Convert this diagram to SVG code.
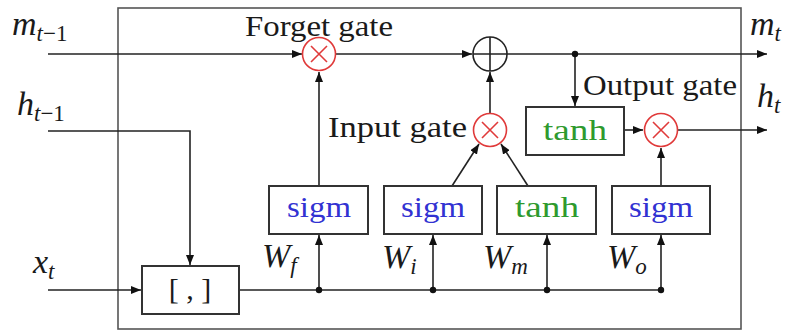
<svg xmlns="http://www.w3.org/2000/svg" width="787" height="331" viewBox="0 0 787 331">
<style>
.ln{fill:none;stroke:#222;stroke-width:1.6}
.bx{fill:#fff;stroke:#333;stroke-width:2}
.red{fill:#fff;stroke:#e03a3a;stroke-width:1.6}
.redx{stroke:#e03a3a;stroke-width:1.6;fill:none}
.blk{fill:#fff;stroke:#222;stroke-width:1.6}
text{font-family:'Liberation Serif',Tinos,'Times New Roman',serif;fill:#1a1a1a}
.m{font-family:'Liberation Serif',serif;font-style:italic;font-size:34px}
.s{font-size:23px}
.up{font-style:normal}
.g{font-family:'Liberation Serif',serif;font-size:30px}
.blue{fill:#3232d2}
.green{fill:#2e9a2e}
.dot{fill:#111}
</style>
<defs>
<marker id="ar" viewBox="0 0 10 8" refX="10" refY="4" markerWidth="10" markerHeight="8" markerUnits="userSpaceOnUse" orient="auto">
<path d="M0,0 L10,4 L0,8 Z" fill="#111"/>
</marker>
</defs>
<rect id="frame" x="118" y="8" width="623" height="321" fill="none" stroke="#555" stroke-width="1.6"/>
<g id="connectors">
<path class="ln" d="M48,54 L302,54" marker-end="url(#ar)"/>
<path class="ln" d="M336,54 L472,54" marker-end="url(#ar)"/>
<path class="ln" d="M507,54 L767,54" marker-end="url(#ar)"/>
<path class="ln" d="M575,54 L575,106" marker-end="url(#ar)"/>
<path class="ln" d="M48,131 L190,131 L190,265" marker-end="url(#ar)"/>
<path class="ln" d="M48,290 L141,290" marker-end="url(#ar)"/>
<path class="ln" d="M239,290 L661,290"/>
<path class="ln" d="M319,290 L319,235" marker-end="url(#ar)"/>
<path class="ln" d="M433,290 L433,235" marker-end="url(#ar)"/>
<path class="ln" d="M547,290 L547,235" marker-end="url(#ar)"/>
<path class="ln" d="M661,290 L661,235" marker-end="url(#ar)"/>
<path class="ln" d="M319,186 L319,72" marker-end="url(#ar)"/>
<path class="ln" d="M490,113 L490,72" marker-end="url(#ar)"/>
<path class="ln" d="M452,186 L479,144" marker-end="url(#ar)"/>
<path class="ln" d="M528,186 L501,144" marker-end="url(#ar)"/>
<path class="ln" d="M624,130 L643,130" marker-end="url(#ar)"/>
<path class="ln" d="M678,130 L767,130" marker-end="url(#ar)"/>
<path class="ln" d="M661,186 L661,148" marker-end="url(#ar)"/>
<circle class="dot" cx="575" cy="54" r="3.2"/>
<circle class="dot" cx="319" cy="290" r="3.2"/>
<circle class="dot" cx="433" cy="290" r="3.2"/>
<circle class="dot" cx="547" cy="290" r="3.2"/>
<circle class="dot" cx="661" cy="290" r="3.2"/>
</g>
<g id="forget-mul">
<circle class="red" cx="319" cy="54" r="16.5"/>
<path class="redx" d="M311,46 L327,62 M327,46 L311,62"/>
</g>
<g id="add">
<circle class="blk" cx="490" cy="54" r="17"/>
<path class="ln" d="M473,54 L507,54 M490,37 L490,71"/>
</g>
<g id="input-mul">
<circle class="red" cx="490" cy="130" r="16.5"/>
<path class="redx" d="M482,122 L498,138 M498,122 L482,138"/>
</g>
<g id="output-mul">
<circle class="red" cx="661" cy="130" r="16.5"/>
<path class="redx" d="M653,122 L669,138 M669,122 L653,138"/>
</g>
<g id="tanh-out">
<rect class="bx" x="526" y="107" width="98" height="48"/>
<text class="g green" x="575" y="140" text-anchor="middle" textLength="64" lengthAdjust="spacingAndGlyphs">tanh</text>
</g>
<g id="concat">
<rect class="bx" x="142" y="266" width="97" height="48"/>
<text class="g" x="190" y="299" text-anchor="middle" xml:space="preserve">[ , ]</text>
</g>
<g id="sigm-f">
<rect class="bx" x="269" y="186" width="99" height="48"/>
<text class="g blue" x="319" y="217" text-anchor="middle" textLength="64" lengthAdjust="spacingAndGlyphs">sigm</text>
</g>
<g id="sigm-i">
<rect class="bx" x="384" y="186" width="98" height="48"/>
<text class="g blue" x="433" y="217" text-anchor="middle" textLength="64" lengthAdjust="spacingAndGlyphs">sigm</text>
</g>
<g id="tanh-m">
<rect class="bx" x="497" y="186" width="99" height="48"/>
<text class="g green" x="547" y="217" text-anchor="middle" textLength="64" lengthAdjust="spacingAndGlyphs">tanh</text>
</g>
<g id="sigm-o">
<rect class="bx" x="612" y="186" width="98" height="48"/>
<text class="g blue" x="661" y="217" text-anchor="middle" textLength="64" lengthAdjust="spacingAndGlyphs">sigm</text>
</g>
<g id="labels">
<text class="g" x="245" y="36" textLength="148" lengthAdjust="spacingAndGlyphs">Forget gate</text>
<text class="g" x="328" y="137" textLength="139" lengthAdjust="spacingAndGlyphs">Input gate</text>
<text class="g" x="583" y="95" textLength="154" lengthAdjust="spacingAndGlyphs">Output gate</text>
<text class="m" x="12" y="35">m<tspan class="s" dy="6">t</tspan><tspan class="s up">−1</tspan></text>
<text class="m" x="17" y="115">h<tspan class="s" dy="6">t</tspan><tspan class="s up">−1</tspan></text>
<text class="m" x="33" y="273">x<tspan class="s" dy="6">t</tspan></text>
<text class="m" x="750" y="35">m<tspan class="s" dy="6">t</tspan></text>
<text class="m" x="757" y="107">h<tspan class="s" dy="6">t</tspan></text>
<text class="m" x="262" y="267">W<tspan class="s" dy="6">f</tspan></text>
<text class="m" x="382" y="268">W<tspan class="s" dy="6">i</tspan></text>
<text class="m" x="483" y="268">W<tspan class="s" dy="6">m</tspan></text>
<text class="m" x="607" y="268">W<tspan class="s" dy="6">o</tspan></text>
</g>
</svg>
